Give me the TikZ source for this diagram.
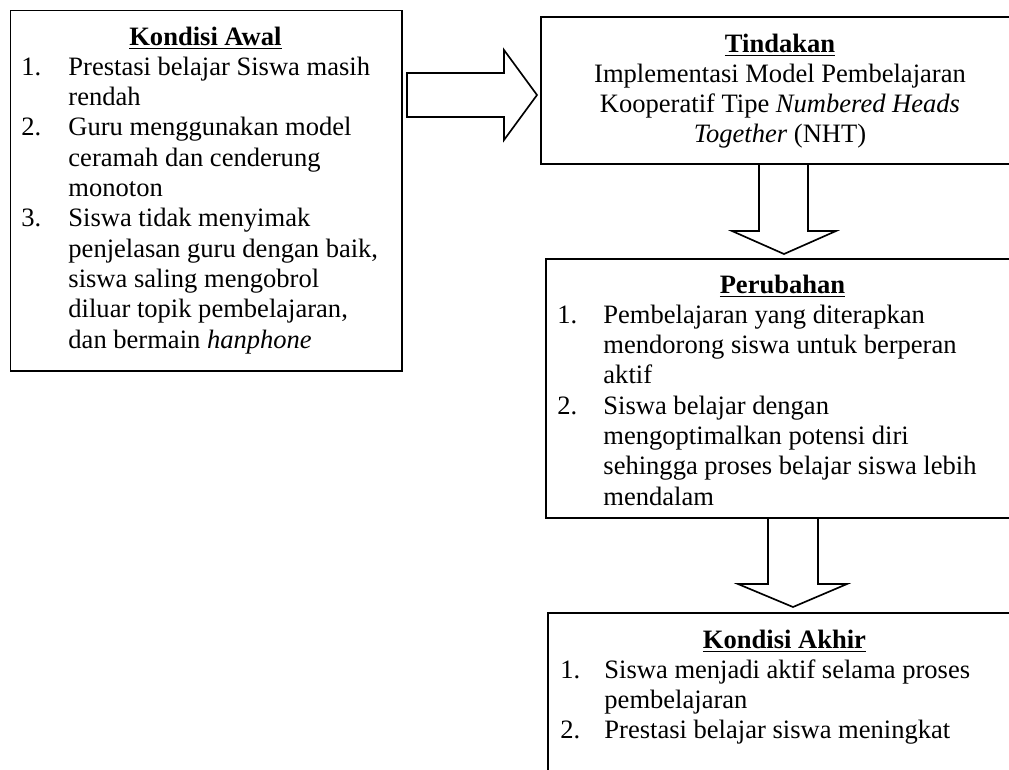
\documentclass[tikz,border=0pt]{standalone}
\usepackage{fontspec}
\setmainfont{Liberation Serif}
\usepackage{array}
\newlength\pxu
\setlength\pxu{0.452pt}

\begin{document}
\begin{tikzpicture}[x=0.452pt, y=-0.452pt,
  kotak/.style={draw, line width=0.8pt, inner sep=0, anchor=north west},
  isi/.style={inner sep=0, anchor=base west, font=\fontsize{12pt}{13.7pt}\selectfont},
  panah/.style={draw, line width=0.75pt, line join=miter}]
\useasboundingbox (0,0) rectangle (1009,769);
\clip (0,0) rectangle (1009,769);

\node[kotak, minimum width=391.5*\pxu, minimum height=360.5*\pxu] (awal) at (9.5,9.5) {};
\node[kotak, minimum width=480*\pxu, minimum height=147*\pxu] (tindakan) at (540,16) {};
\node[kotak, minimum width=475*\pxu, minimum height=259*\pxu] (perubahan) at (545,258) {};
\node[kotak, minimum width=474*\pxu, minimum height=200*\pxu] (akhir) at (547,612) {};

\node[isi] (awalisi) at (21,45) {\begin{tabular}[t]{@{}p{47\pxu}@{}p{321\pxu}@{}}
\multicolumn{2}{@{}c@{}}{\textbf{\underline{Kondisi Awal}}}\\
1. & Prestasi belajar Siswa masih\\
   & rendah\\
2. & Guru menggunakan model\\
   & ceramah dan cenderung\\
   & monoton\\
3. & Siswa tidak menyimak\\
   & penjelasan guru dengan baik,\\
   & siswa saling mengobrol\\
   & diluar topik pembelajaran,\\
   & dan bermain \textit{hanphone}
\end{tabular}};

\node[isi, anchor=base] (tindakanisi) at (780,52) {\begin{tabular}[t]{@{}c@{}}
\textbf{\underline{Tindakan}}\\
Implementasi Model Pembelajaran\\
Kooperatif Tipe \textit{Numbered Heads}\\
\textit{Together} (NHT)
\end{tabular}};

\node[isi] (perubahanisi) at (557,293) {\begin{tabular}[t]{@{}p{46\pxu}@{}p{404\pxu}@{}}
\multicolumn{2}{@{}c@{}}{\textbf{\underline{Perubahan}}}\\
1. & Pembelajaran yang diterapkan\\
   & mendorong siswa untuk berperan\\
   & aktif\\
2. & Siswa belajar dengan\\
   & mengoptimalkan potensi diri\\
   & sehingga proses belajar siswa lebih\\
   & mendalam
\end{tabular}};

\node[isi] (akhirisi) at (560,648) {\begin{tabular}[t]{@{}p{44\pxu}@{}p{404\pxu}@{}}
\multicolumn{2}{@{}c@{}}{\textbf{\underline{Kondisi Akhir}}}\\
1. & Siswa menjadi aktif selama proses\\
   & pembelajaran\\
2. & Prestasi belajar siswa meningkat
\end{tabular}};

\draw[panah] (407,73) -- (504,73) -- (504,50) -- (537,95) -- (504,140) -- (504,117) -- (407,117) -- cycle;
\draw[panah] (759,0 |- tindakan.south) -- (759,231) -- (732,231) -- (784,254) -- (836,231) -- (808,231) -- (808,0 |- tindakan.south);
\draw[panah] (768,0 |- perubahan.south) -- (768,584) -- (738,584) -- (793,607) -- (847,584) -- (818,584) -- (818,0 |- perubahan.south);
\end{tikzpicture}
\end{document}
